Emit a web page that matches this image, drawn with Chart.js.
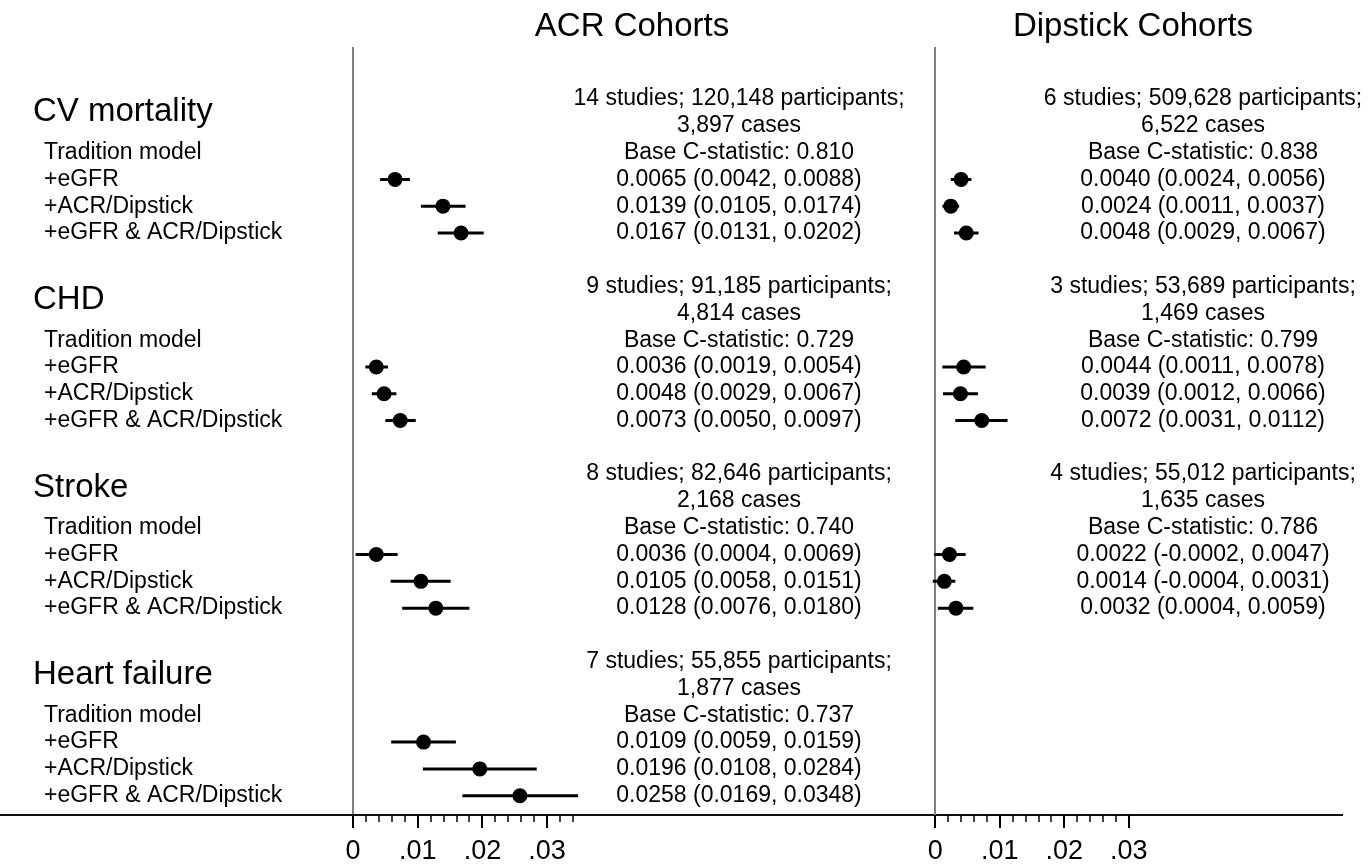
<!DOCTYPE html>
<html>
<head>
<meta charset="utf-8">
<script src="https://cdn.jsdelivr.net/npm/chart.js@4/dist/chart.umd.min.js"></script>
<style>
  body { margin: 0; background: #fff; }
  .wrap { position: relative; width: 1371px; height: 865px; }
  canvas { position: absolute; left: 0; top: 0; }
</style>
</head>
<body>
<div class="wrap">
  <canvas id="acrChart" width="1371" height="865"></canvas>
  <canvas id="dipChart" width="1371" height="865"></canvas>
</div>
<script>
// outcomes and model rows
const outcomes = ['CV mortality', 'CHD', 'Stroke', 'Heart failure'];
const models = ['Tradition model', '+eGFR', '+ACR/Dipstick', '+eGFR & ACR/Dipstick'];

// ACR cohorts
const acrStudies = [14, 9, 8, 7];
const acrParticipants = ['120,148', '91,185', '82,646', '55,855'];
const acrCases = ['3,897', '4,814', '2,168', '1,877'];
const acrBaseC = ['0.810', '0.729', '0.740', '0.737'];
const acrEgfr    = [0.0065, 0.0036, 0.0036, 0.0109];
const acrEgfrLo  = [0.0042, 0.0019, 0.0004, 0.0059];
const acrEgfrHi  = [0.0088, 0.0054, 0.0069, 0.0159];
const acrAlb     = [0.0139, 0.0048, 0.0105, 0.0196];
const acrAlbLo   = [0.0105, 0.0029, 0.0058, 0.0108];
const acrAlbHi   = [0.0174, 0.0067, 0.0151, 0.0284];
const acrBoth    = [0.0167, 0.0073, 0.0128, 0.0258];
const acrBothLo  = [0.0131, 0.0050, 0.0076, 0.0169];
const acrBothHi  = [0.0202, 0.0097, 0.0180, 0.0348];

// Dipstick cohorts (no heart failure)
const dipStudies = [6, 3, 4];
const dipParticipants = ['509,628', '53,689', '55,012'];
const dipCases = ['6,522', '1,469', '1,635'];
const dipBaseC = ['0.838', '0.799', '0.786'];
const dipEgfr    = [0.0040, 0.0044, 0.0022];
const dipEgfrLo  = [0.0024, 0.0011, -0.0002];
const dipEgfrHi  = [0.0056, 0.0078, 0.0047];
const dipAlb     = [0.0024, 0.0039, 0.0014];
const dipAlbLo   = [0.0011, 0.0012, -0.0004];
const dipAlbHi   = [0.0037, 0.0066, 0.0031];
const dipBoth    = [0.0048, 0.0072, 0.0032];
const dipBothLo  = [0.0029, 0.0031, 0.0004];
const dipBothHi  = [0.0067, 0.0112, 0.0059];

// axis ticks (every 5th is a labelled major tick)
const acrTicks = [0, .002, .004, .006, .008, .01, .012, .014, .016, .018, .02, .022, .024, .026, .028, .03, .032, .034];
const dipTicks = [0, .002, .004, .006, .008, .01, .012, .014, .016, .018, .02, .022, .024, .026, .028, .03];
const tickLabels = ['0', '.01', '.02', '.03'];

const FONT = '"Liberation Sans", Arial, Helvetica, sans-serif';
const row = (g, j) => g * 7 + j;
const fmt = (e, lo, hi) => `${e.toFixed(4)} (${lo.toFixed(4)}, ${hi.toFixed(4)})`;

function makeSeries(groups) {
    // groups: [est, lo, hi] for +eGFR, +ACR/Dipstick, +both
    const dots = [];
    const lines = [];
    groups.forEach(([est, lo, hi], m) => {
        est.forEach((e, g) => {
            const y = row(g, 3 + m);
            dots.push({ x: e, y: y });
            lines.push({
                type: 'scatter',
                data: [{ x: lo[g], y: y }, { x: hi[g], y: y }],
                showLine: true,
                borderColor: '#000',
                borderWidth: 3,
                pointRadius: 0,
                order: 2
            });
        });
    });
    return [{
        type: 'scatter',
        data: dots,
        pointRadius: 7.5,
        pointHoverRadius: 7.5,
        backgroundColor: '#000',
        borderWidth: 0,
        order: 1
    }, ...lines];
}

function makeOptions(xmin, xmax, padLeft, padRight, ticks) {
    return {
        responsive: false,
        animation: false,
        layout: { padding: { left: padLeft, right: padRight, top: 47, bottom: -9.4 } },
        plugins: { legend: { display: false }, tooltip: { enabled: false } },
        scales: {
            y: { type: 'linear', reverse: true, min: -1.94, max: 26.72, display: false },
            x: {
                type: 'linear',
                min: xmin,
                max: xmax,
                afterBuildTicks: axis => { axis.ticks = ticks.map(v => ({ value: v })); },
                border: { display: false },
                grid: {
                    drawOnChartArea: true,
                    color: c => (c.tick && c.tick.value === 0) ? '#808080' : 'rgba(0,0,0,0)',
                    lineWidth: 2,
                    tickLength: 13,
                    tickColor: '#000',
                    tickWidth: c => (c.index % 5 === 0) ? 2 : 1.5,
                    tickBorderDash: c => (c.index % 5 === 0) ? [] : [7, 30]
                },
                ticks: {
                    autoSkip: false,
                    maxRotation: 0,
                    padding: 7,
                    color: '#000',
                    font: { family: FONT, size: 27 },
                    callback: (v, i) => (i % 5 === 0) ? tickLabels[i / 5] : ''
                }
            }
        }
    };
}

function text(ctx, str, x, y, size, align) {
    ctx.font = `${size}px ${FONT}`;
    ctx.textAlign = align;
    ctx.textBaseline = 'middle';
    ctx.fillStyle = '#000';
    ctx.fillText(str, x, y);
}

const acrText = {
    id: 'acrText',
    afterDraw(chart) {
        const ctx = chart.ctx;
        const y = chart.scales.y;
        ctx.save();
        // axis line across the page
        ctx.strokeStyle = '#111';
        ctx.lineWidth = 2;
        ctx.beginPath();
        ctx.moveTo(0, chart.chartArea.bottom);
        ctx.lineTo(1343, chart.chartArea.bottom);
        ctx.stroke();

        text(ctx, 'ACR Cohorts', 632, 27, 33, 'center');
        outcomes.forEach((name, g) => {
            text(ctx, name, 33, y.getPixelForValue(row(g, 0.5)), 33, 'left');
            models.forEach((m, j) => text(ctx, m, 44, y.getPixelForValue(row(g, 2 + j)), 23, 'left'));
            const cx = 739;
            text(ctx, `${acrStudies[g]} studies; ${acrParticipants[g]} participants;`, cx, y.getPixelForValue(row(g, 0)), 23, 'center');
            text(ctx, `${acrCases[g]} cases`, cx, y.getPixelForValue(row(g, 1)), 23, 'center');
            text(ctx, `Base C-statistic: ${acrBaseC[g]}`, cx, y.getPixelForValue(row(g, 2)), 23, 'center');
            text(ctx, fmt(acrEgfr[g], acrEgfrLo[g], acrEgfrHi[g]), cx, y.getPixelForValue(row(g, 3)), 23, 'center');
            text(ctx, fmt(acrAlb[g], acrAlbLo[g], acrAlbHi[g]), cx, y.getPixelForValue(row(g, 4)), 23, 'center');
            text(ctx, fmt(acrBoth[g], acrBothLo[g], acrBothHi[g]), cx, y.getPixelForValue(row(g, 5)), 23, 'center');
        });
        ctx.restore();
    }
};

const dipText = {
    id: 'dipText',
    afterDraw(chart) {
        const ctx = chart.ctx;
        const y = chart.scales.y;
        ctx.save();
        text(ctx, 'Dipstick Cohorts', 1133, 27, 33, 'center');
        dipStudies.forEach((n, g) => {
            const cx = 1203;
            text(ctx, `${n} studies; ${dipParticipants[g]} participants;`, cx, y.getPixelForValue(row(g, 0)), 23, 'center');
            text(ctx, `${dipCases[g]} cases`, cx, y.getPixelForValue(row(g, 1)), 23, 'center');
            text(ctx, `Base C-statistic: ${dipBaseC[g]}`, cx, y.getPixelForValue(row(g, 2)), 23, 'center');
            text(ctx, fmt(dipEgfr[g], dipEgfrLo[g], dipEgfrHi[g]), cx, y.getPixelForValue(row(g, 3)), 23, 'center');
            text(ctx, fmt(dipAlb[g], dipAlbLo[g], dipAlbHi[g]), cx, y.getPixelForValue(row(g, 4)), 23, 'center');
            text(ctx, fmt(dipBoth[g], dipBothLo[g], dipBothHi[g]), cx, y.getPixelForValue(row(g, 5)), 23, 'center');
        });
        ctx.restore();
    }
};

// ACR panel: 0 at x=353, .01 = 64.7px
new Chart(document.getElementById('acrChart'), {
    type: 'scatter',
    data: { datasets: makeSeries([[acrEgfr, acrEgfrLo, acrEgfrHi], [acrAlb, acrAlbLo, acrAlbHi], [acrBoth, acrBothLo, acrBothHi]]) },
    options: makeOptions(0, 0.09, 353, 1371 - 353 - 0.09 * 6470, acrTicks),
    plugins: [acrText]
});

// Dipstick panel: 0 at x=935.3, .01 = 64.5px
new Chart(document.getElementById('dipChart'), {
    type: 'scatter',
    data: { datasets: makeSeries([[dipEgfr, dipEgfrLo, dipEgfrHi], [dipAlb, dipAlbLo, dipAlbHi], [dipBoth, dipBothLo, dipBothHi]]) },
    options: makeOptions(-0.001, 0.06, 935.3 - 0.001 * 6450, 1371 - 935.3 - 0.06 * 6450, dipTicks),
    plugins: [dipText]
});
</script>
</body>
</html>
